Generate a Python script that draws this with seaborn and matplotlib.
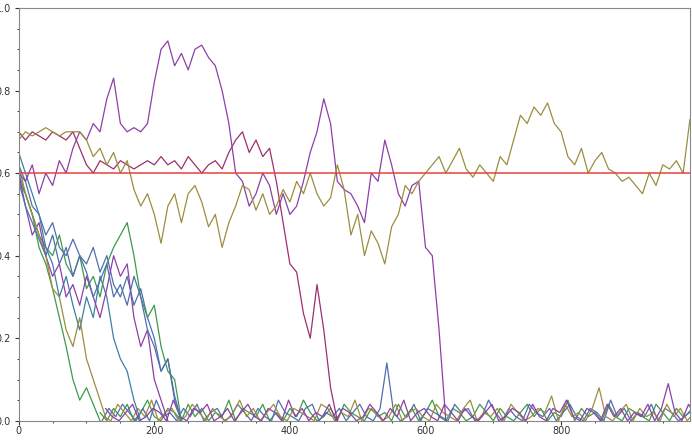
import numpy as np
import matplotlib
matplotlib.use("Agg")
import matplotlib.pyplot as plt
import seaborn as sns

sns.set_style("ticks")
plt.rcParams['font.family'] = ['DejaVu Sans']

STEP = 10
olive = [0.68,0.70,0.69,0.70,0.71,0.70,0.69,0.70,0.70,0.70,
         0.68,0.64,0.66,0.62,0.65,0.60,0.63,0.56,0.52,0.55,
         0.50,0.43,0.52,0.55,0.48,0.55,0.57,0.53,0.47,0.50,
         0.42,0.48,0.52,0.57,0.56,0.51,0.55,0.50,0.52,0.56,
         0.53,0.58,0.55,0.60,0.55,0.52,0.54,0.62,0.56,0.45,
         0.50,0.40,0.46,0.43,0.38,0.47,0.50,0.57,0.55,0.58,
         0.60,0.62,0.64,0.60,0.63,0.66,0.61,0.59,0.62,0.60,
         0.58,0.64,0.62,0.68,0.74,0.72,0.76,0.74,0.77,0.72,
         0.70,0.64,0.62,0.66,0.60,0.63,0.65,0.61,0.60,0.58,
         0.59,0.57,0.55,0.60,0.57,0.62,0.61,0.63,0.60,0.73]
purple = [0.60,0.58,0.62,0.55,0.60,0.57,0.63,0.60,0.66,0.70,
          0.68,0.72,0.70,0.78,0.83,0.72,0.70,0.71,0.70,0.72,
          0.82,0.90,0.92,0.86,0.89,0.85,0.90,0.91,0.88,0.86,
          0.80,0.72,0.60,0.58,0.52,0.55,0.60,0.57,0.50,0.55,
          0.50,0.52,0.58,0.65,0.70,0.78,0.72,0.58,0.56,0.55,
          0.52,0.48,0.60,0.58,0.68,0.62,0.55,0.52,0.57,0.58,
          0.42,0.40,0.22,0.0]
crimson = [0.70,0.68,0.70,0.69,0.68,0.70,0.69,0.68,0.70,0.66,
           0.62,0.60,0.63,0.62,0.61,0.63,0.62,0.61,0.62,0.63,
           0.62,0.64,0.62,0.63,0.61,0.64,0.62,0.60,0.62,0.63,
           0.61,0.65,0.68,0.70,0.65,0.68,0.64,0.66,0.58,0.48,
           0.38,0.36,0.26,0.20,0.33,0.22,0.08,0.0]
blue1 = [0.62,0.58,0.52,0.50,0.45,0.48,0.42,0.40,0.44,0.40,0.38,0.42,0.36,0.40,0.33,0.30,0.35,0.28,0.32,0.25,0.20,0.12,0.15,0.05,0.0]
green1 = [0.60,0.55,0.50,0.45,0.42,0.40,0.45,0.38,0.35,0.40,0.32,0.35,0.30,0.38,0.42,0.45,0.48,0.40,0.30,0.25,0.28,0.18,0.12,0.10,0.0]
teal1 = [0.65,0.60,0.55,0.50,0.42,0.38,0.30,0.35,0.28,0.22,0.30,0.25,0.35,0.30,0.20,0.15,0.12,0.05,0.0]
green2 = [0.58,0.55,0.50,0.42,0.38,0.32,0.25,0.18,0.10,0.05,0.08,0.04,0.0]
purple2 = [0.60,0.52,0.45,0.48,0.40,0.35,0.38,0.30,0.33,0.28,0.35,0.30,0.25,0.32,0.40,0.35,0.38,0.25,0.18,0.22,0.10,0.05,0.0]
olive2 = [0.62,0.55,0.50,0.45,0.40,0.32,0.30,0.22,0.18,0.25,0.15,0.10,0.05,0.0]
blue3 = [0.58,0.52,0.48,0.44,0.40,0.45,0.38,0.42,0.35,0.40,0.36,0.30,0.34,0.38,0.30,0.33,0.28,0.35,0.30,0.22,0.18,0.12,0.15,0.06,0.0]

# near-zero noise, hundredths
noise_green = [2,0,3,1,4,0,2,5,1,0,3,2,0,4,1,3,0,2,1,5,0,3,2,1,4,0,2,0,3,1,5,2,0,1,3,0,4,2,1,0,3,1,2,0,4,1,3,0,2,5,1,0,3,2,0,1,4,2,0,3,1,0,2,4,1,3,0,2,1,5,0,3,1,2,0,4,1,0,3,2,1,0,4,2,0,3,1,2]
noise_blue = [0,3,1,4,2,0,3,0,5,1,2,0,3,1,4,0,2,3,0,1,4,2,0,3,1,0,5,2,1,0,3,4,0,2,1,3,0,2,4,1,0,3,14,2,0,1,4,0,3,2,1,0,4,2,3,0,1,5,2,0,3,1,0,4,2,1,3,0,2,4,1,0,3,2,0,5,1,3,0,2,1,4,0,3,2,0,1,3]
noise_olive = [1,0,4,2,0,3,1,5,0,2,3,0,1,4,2,0,3,1,0,2,5,1,3,0,2,4,1,0,3,2,1,0,4,3,0,2,1,5,0,3,2,0,1,4,0,2,3,1,0,4,2,1,0,3,5,0,2,1,3,0,4,2,0,1,3,2,6,0,4,1,2,0,3,8,1,0,2,4,0,3,1,2,0,4,1,3,0,2]
noise_purple = [3,1,0,2,4,0,1,3,2,0,5,1,0,3,2,4,0,1,3,0,2,4,1,0,3,2,0,5,1,3,0,2,1,4,0,3,2,0,1,4,2,0,3,1,5,0,2,3,1,0,4,2,0,3,1,0,2,4,0,1,3,2,0,4,1,0,3,2,5,1,0,3,2,0,4,1,3,0,2,1,4,0,3,9,2,0,4,1]

c_blue, c_olive, c_purple = "#4F6FAF", "#9C8E3E", "#8E3FA8"
c_crimson, c_green, c_teal = "#9C2F6E", "#3E9A4A", "#3C80A3"

fig, ax = plt.subplots(figsize=(6.92, 4.42), dpi=100)
fig.subplots_adjust(left=0.027, right=0.997, top=0.982, bottom=0.048)

def draw(vals, color, x0=0, scale=1.0):
    v = np.array(vals, float) * scale
    x = x0 + np.arange(len(v)) * STEP
    sns.lineplot(x=x, y=v, color=color, lw=0.9, ax=ax, estimator=None, sort=False)

draw(noise_green, c_green, 120, 0.01)
draw(noise_blue, c_blue, 123, 0.01)
draw(noise_olive, c_olive, 126, 0.01)
draw(noise_purple, c_purple, 128, 0.01)
for vals, col in [(blue1, c_blue), (green1, c_green), (teal1, c_teal), (green2, c_green),
                  (purple2, c_purple), (olive2, c_olive), (blue3, c_blue),
                  (crimson, c_crimson), (purple, c_purple), (olive, c_olive)]:
    draw(vals, col)
ax.axhline(0.6, color="#E8413A", lw=1.1)

ax.set_xlim(0, 990)
ax.set_ylim(0, 1.0)
ax.set_xticks([0, 200, 400, 600, 800])
ax.set_yticks([0, 0.2, 0.4, 0.6, 0.8, 1.0])
ax.set_yticklabels(["0.0", "0.2", "0.4", "0.6", "0.8", "1.0"])
ax.tick_params(labelsize=7, length=3, colors="#333333", pad=1)
ax.set_xticks(np.arange(0, 991, 50), minor=True)
ax.set_yticks(np.arange(0, 1.01, 0.05), minor=True)
ax.tick_params(which="minor", length=1.5)
for lbl in ax.get_yticklabels():
    lbl.set_horizontalalignment("left")
    lbl.set_x(-0.026)
for s in ax.spines.values():
    s.set_color("#888888")
    s.set_linewidth(0.8)
fig.savefig("out.png", dpi=100)
